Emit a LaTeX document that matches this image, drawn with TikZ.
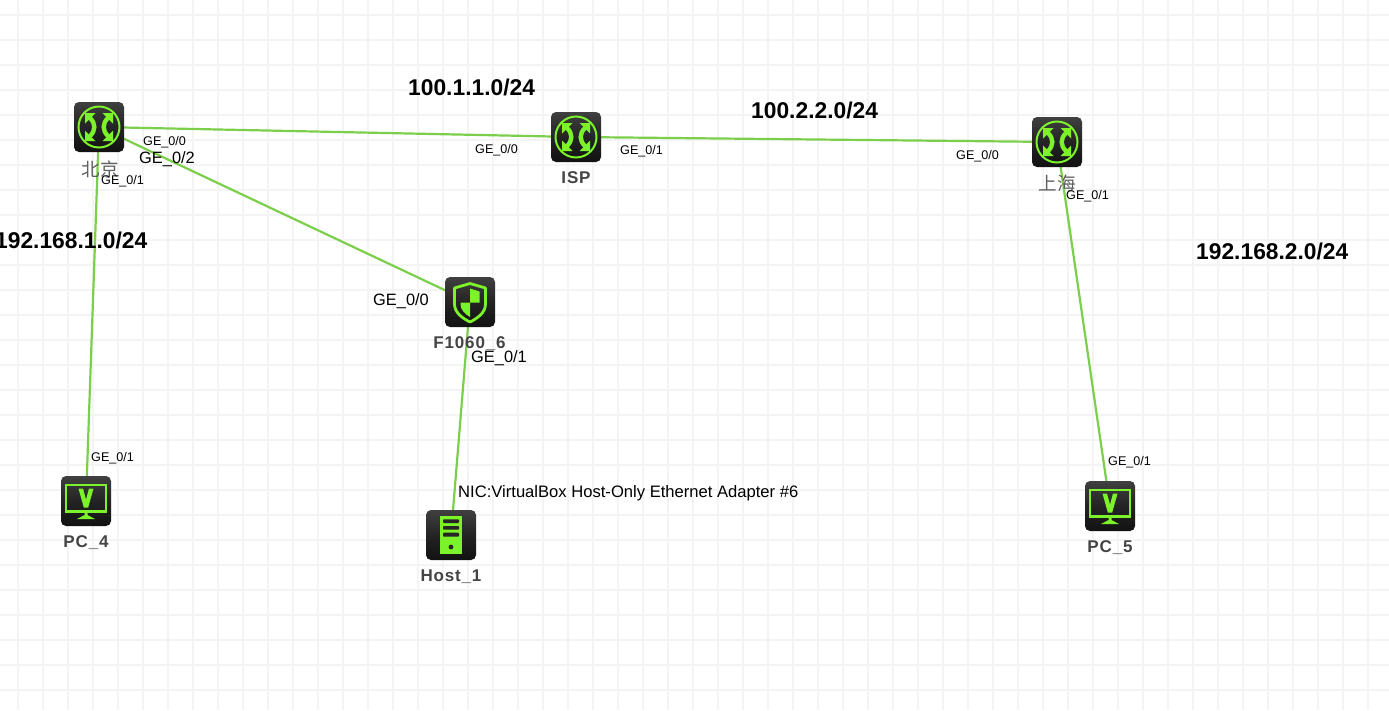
\documentclass[tikz,border=0pt]{standalone}
\usepackage{fontspec}
\setmainfont{Liberation Sans}
\newfontfamily\cjk{Noto Sans CJK SC}
\usetikzlibrary{backgrounds}
\definecolor{gridc}{HTML}{F4F4F4}
\definecolor{linkc}{HTML}{7CCF4A}
\definecolor{neon}{HTML}{7BF22A}
\definecolor{lab}{HTML}{444444}
\tikzset{
  device/.style={minimum size=50pt,inner sep=0pt,rounded corners=5pt,top color=black!75,bottom color=black!93,middle color=black!86},
  link/.style={draw=linkc,line width=2.2pt},
  gridline/.style={draw=gridc,line width=2.5pt},
  devlabel/.style={text=lab,font=\fontsize{17}{20}\selectfont\bfseries\addfontfeature{LetterSpace=5},inner sep=0pt,anchor=center},
  cnlabel/.style={text=lab!85,font=\fontsize{18.5}{20}\selectfont\cjk,inner sep=0pt,anchor=center},
  smallport/.style={font=\fontsize{12.6}{14}\selectfont,inner sep=0pt,anchor=base west},
  bigport/.style={font=\fontsize{16.4}{18}\selectfont,inner sep=0pt,anchor=base west},
  subnet/.style={font=\fontsize{22.8}{26}\selectfont\bfseries,inner sep=0pt,anchor=base west},
  routericon/.pic={
    \draw[neon,line width=2pt] (0,0) circle (20.5pt);
    \foreach \sx/\sy in {1/1,-1/1,1/-1,-1/-1}{
      \fill[neon,xscale=\sx,yscale=\sy] (14,14) -- (3.5,14) -- (6.5,11) -- (11,6.5) -- (14,3.5) -- cycle;
    }
    \foreach \sx in {1,-1}{
      \draw[neon,line width=4.4pt,xscale=\sx] (9,-9) .. controls (3.2,-3.5) and (3.2,3.5) .. (9,9);
    }
  },
  shieldicon/.pic={
    \draw[neon,line width=2.8pt,line join=round] (0,-18.5) -- (-15.5,-14) -- (-15.5,2) .. controls (-15.5,11) and (-7,16.5) .. (0,20) .. controls (7,16.5) and (15.5,11) .. (15.5,2) -- (15.5,-14) -- cycle;
    \fill[neon] (0,-13.5) -- (9.5,-10.5) -- (9.5,0.7) -- (0,0.7) -- cycle;
    \fill[neon] (-9.5,0.7) -- (0,0.7) -- (0,15) .. controls (-5,12) and (-9.5,8) .. (-9.5,2) -- cycle;
  },
  pcicon/.pic={
    \draw[neon,line width=2.8pt] (-20,-16) rectangle (20,10.5);
    \fill[neon] (-7.5,-12.5) -- (-3,-12.5) -- (0,-1.5) -- (3,-12.5) -- (7.5,-12.5) -- (2.2,6.5) -- (-2.2,6.5) -- cycle;
    \fill[neon] (-1.5,11.5) -- (1.5,11.5) -- (1.5,14) -- (9,18) -- (-9,18) -- (-1.5,14) -- cycle;
  },
  hosticon/.pic={
    \fill[neon] (-11,-19) rectangle (11,18.5);
    \fill[black!85,rounded corners=0.8pt] (-8,-15.7) rectangle (8,-12);
    \fill[black!85,rounded corners=0.8pt] (-8,-9) rectangle (8,-5.3);
    \fill[black!85,rounded corners=0.8pt] (-8,-2.3) rectangle (8,1.7);
    \fill[black!85] (0,12) circle (2.4pt);
  }
}
\begin{document}
\begin{tikzpicture}[x=1pt,y=-1pt]
\useasboundingbox (0,0) rectangle (1389,710);
\begin{scope}[on background layer]
  \fill[white] (0,0) rectangle (1389,710);
  \foreach \gx in {18,43,...,1393}{\draw[gridline] (\gx,0) -- (\gx,710);}
  \foreach \gy in {15,40,...,710}{\draw[gridline] (0,\gy) -- (1389,\gy);}
\end{scope}

\node[device] (bj) at (99,127) {};
\node[device] (isp) at (576,137) {};
\node[device] (sh) at (1057,142) {};
\node[device] (fw) at (470,302) {};
\node[device] (pc4) at (86,501) {};
\node[device] (host) at (451,535) {};
\node[device] (pc5) at (1110,506) {};

\begin{scope}[on background layer]
  \draw[link] (bj.center) -- (isp.center);
  \draw[link] (isp.center) -- (sh.center);
  \draw[link] (bj.center) -- (fw.center);
  \draw[link] (bj.center) -- (pc4.center);
  \draw[link] (fw.center) -- (host.center);
  \draw[link] (sh.center) -- (pc5.center);
\end{scope}

\pic at (bj.center) {routericon};
\pic at (isp.center) {routericon};
\pic at (sh.center) {routericon};
\pic at (fw.center) {shieldicon};
\pic at (pc4.center) {pcicon};
\pic at (pc5.center) {pcicon};
\pic at (host.center) {hosticon};

\node[cnlabel] (lbj) at (100,169) {北京};
\node[devlabel] (lisp) at (576,177.5) {ISP};
\node[cnlabel] (lsh) at (1057,183) {上海};
\node[devlabel] (lfw) at (469.5,343.5) {F1060\_6};
\node[devlabel] (lpc4) at (86,542.5) {PC\_4};
\node[devlabel] (lhost) at (451,576.5) {Host\_1};
\node[devlabel] (lpc5) at (1110,547.5) {PC\_5};

\node[smallport] (p1) at (143,145) {GE\_0/0};
\node[bigport] (p2) at (139,163) {GE\_0/2};
\node[smallport] (p3) at (101,184) {GE\_0/1};
\node[smallport] (p4) at (475,153) {GE\_0/0};
\node[smallport] (p5) at (620,154) {GE\_0/1};
\node[smallport] (p6) at (956,159) {GE\_0/0};
\node[smallport] (p7) at (1066,199) {GE\_0/1};
\node[bigport] (p8) at (373,305) {GE\_0/0};
\node[bigport] (p9) at (471,362) {GE\_0/1};
\node[smallport] (p10) at (91,461) {GE\_0/1};
\node[smallport] (p11) at (1108,465) {GE\_0/1};
\node[font=\fontsize{16.6}{18}\selectfont,inner sep=0pt,anchor=base west] (nic) at (458,497) {NIC:VirtualBox Host-Only Ethernet Adapter \#6};

\node[subnet] (s1) at (408,95) {100.1.1.0/24};
\node[subnet] (s2) at (751,118) {100.2.2.0/24};
\node[subnet] (s3) at (-5,248) {192.168.1.0/24};
\node[subnet] (s4) at (1196,259) {192.168.2.0/24};
\end{tikzpicture}
\end{document}
